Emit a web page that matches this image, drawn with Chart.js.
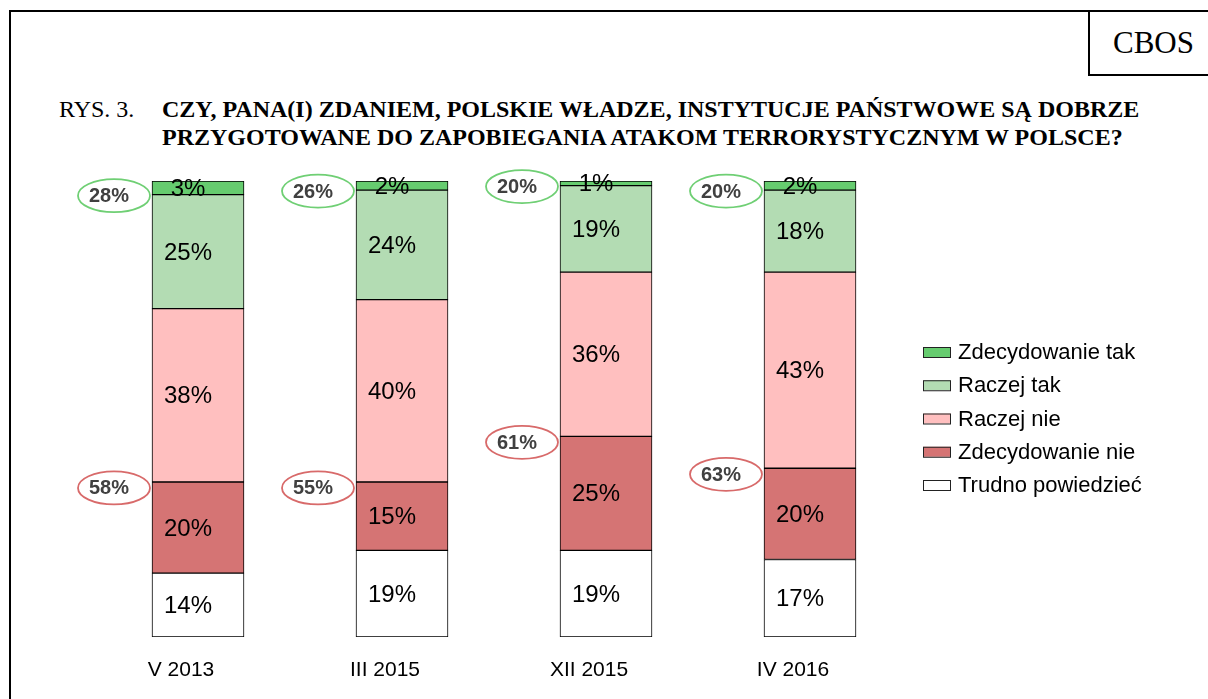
<!DOCTYPE html>
<html><head><meta charset="utf-8">
<script src="https://cdn.jsdelivr.net/npm/chart.js@4/dist/chart.umd.min.js"></script>
<style>
body{margin:0;background:#fff;width:1208px;height:699px;overflow:hidden;position:relative;font-family:'Liberation Serif','Times New Roman',serif;color:#000}
#frame{position:absolute;left:9px;top:10px;width:1300px;height:800px;border:2px solid #000;box-sizing:border-box}
#cbos{position:absolute;left:1088px;top:10px;width:200px;height:66px;border:2px solid #000;box-sizing:border-box}
#cbosTxt{position:absolute;left:1113px;top:27px;font-size:31px;line-height:31px;white-space:nowrap}
#rys{position:absolute;left:59px;top:95px;font-size:24px;line-height:28px;white-space:nowrap}
#title{position:absolute;left:162px;top:95px;font-size:24px;line-height:28px;font-weight:bold;white-space:nowrap}
canvas{position:absolute;left:0;top:0}
</style></head>
<body>
<div id="frame"></div>
<div id="cbos"></div>
<div id="cbosTxt">CBOS</div>
<div id="rys">RYS. 3.</div>
<div id="title">CZY, PANA(I) ZDANIEM, POLSKIE WŁADZE, INSTYTUCJE PAŃSTWOWE SĄ DOBRZE<br>PRZYGOTOWANE DO ZAPOBIEGANIA ATAKOM TERRORYSTYCZNYM W POLSCE?</div>
<canvas id="c" width="1208" height="699"></canvas>
<script>
const categories = ['V 2013', 'III 2015', 'XII 2015', 'IV 2016'];
const zdecydowanieTak = [3, 2, 1, 2];
const raczejTak = [25, 24, 19, 18];
const raczejNie = [38, 40, 36, 43];
const zdecydowanieNie = [20, 15, 25, 20];
const trudnoPowiedziec = [14, 19, 19, 17];
const seriesNames = ['Zdecydowanie tak', 'Raczej tak', 'Raczej nie', 'Zdecydowanie nie', 'Trudno powiedzieć'];

const COLORS = {
  zt: '#66cc6f',
  rt: '#b3dcb3',
  rn: '#ffbfbf',
  zn: '#d57474',
  tp: '#ffffff'
};
const SANS = "'Liberation Sans', Arial, sans-serif";

// bottom-to-top stacking order
const datasets = [
  { label: seriesNames[4], data: trudnoPowiedziec, backgroundColor: COLORS.tp },
  { label: seriesNames[3], data: zdecydowanieNie, backgroundColor: COLORS.zn },
  { label: seriesNames[2], data: raczejNie, backgroundColor: COLORS.rn },
  { label: seriesNames[1], data: raczejTak, backgroundColor: COLORS.rt },
  { label: seriesNames[0], data: zdecydowanieTak, backgroundColor: COLORS.zt }
].map(d => Object.assign(d, { borderColor: '#000', borderWidth: 1, borderSkipped: false, barThickness: 92 }));

const overlay = {
  id: 'overlay',
  afterDatasetsDraw(chart) {
    const ctx = chart.ctx;
    ctx.save();
    // segment value labels
    ctx.font = '24px ' + SANS;
    ctx.fillStyle = '#000';
    ctx.textAlign = 'center';
    ctx.textBaseline = 'middle';
    chart.data.datasets.forEach((ds, i) => {
      chart.getDatasetMeta(i).data.forEach((el, j) => {
        ctx.fillText(ds.data[j] + '%', el.x - 10, (el.y + el.base) / 2 + 1.5);
      });
    });
    // summary ellipses
    const ztMeta = chart.getDatasetMeta(4), rnMeta = chart.getDatasetMeta(2);
    categories.forEach((c, j) => {
      const el = ztMeta.data[j];
      const left = el.x - el.width / 2;
      const greenY = el.base + 1;
      const redY = rnMeta.data[j].base + 6;
      const tak = zdecydowanieTak[j] + raczejTak[j];
      const nie = raczejNie[j] + zdecydowanieNie[j];
      [[greenY, '#6fcf74', tak], [redY, '#d86a6a', nie]].forEach(([y, col, v]) => {
        ctx.beginPath();
        ctx.ellipse(left - 38, y, 36, 16.5, 0, 0, Math.PI * 2);
        ctx.lineWidth = 1.8;
        ctx.strokeStyle = col;
        ctx.stroke();
        ctx.font = 'bold 20px ' + SANS;
        ctx.fillStyle = '#404040';
        ctx.fillText(v + '%', left - 43, y + 1);
      });
      // category label
      ctx.font = '21px ' + SANS;
      ctx.fillStyle = '#000';
      ctx.fillText(c, el.x - 17, 670);
    });
    // legend
    ctx.textAlign = 'left';
    ctx.font = '22px ' + SANS;
    const legendOrder = [4, 3, 2, 1, 0];
    legendOrder.forEach((di, k) => {
      const ds = chart.data.datasets[di];
      const y = 352 + k * 33.25;
      ctx.fillStyle = ds.backgroundColor;
      ctx.fillRect(923, y - 5, 28, 10);
      ctx.lineWidth = 1;
      ctx.strokeStyle = '#222';
      ctx.strokeRect(923.5, y - 4.5, 27, 10);
      ctx.fillStyle = '#000';
      ctx.fillText(ds.label, 958, y + 1);
    });
    ctx.restore();
  }
};

new Chart(document.getElementById('c'), {
  type: 'bar',
  data: { labels: categories, datasets },
  options: {
    responsive: false,
    devicePixelRatio: 1,
    animation: false,
    layout: { padding: { left: 96, right: 296, top: 181, bottom: 62 } },
    scales: {
      x: { display: false, stacked: true },
      y: { display: false, stacked: true, min: 0, max: 100 }
    },
    plugins: { legend: { display: false }, tooltip: { enabled: false } }
  },
  plugins: [overlay]
});
</script>
</body></html>
